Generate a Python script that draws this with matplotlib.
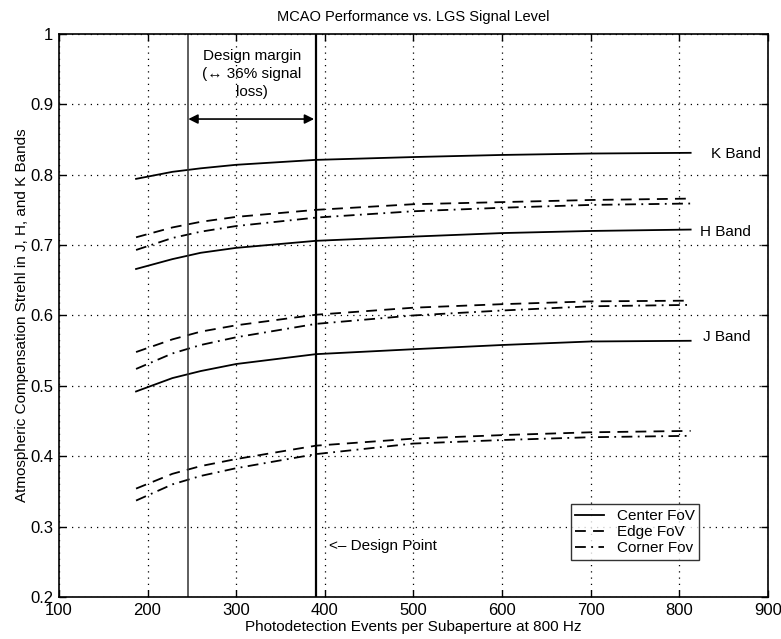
import matplotlib
matplotlib.use("Agg")
import matplotlib.pyplot as plt

plt.rcParams['font.family'] = ['Liberation Sans', 'DejaVu Sans']

x = [187, 228, 260, 300, 390, 500, 600, 700, 813]

k_center = [0.794, 0.804, 0.809, 0.814, 0.821, 0.825, 0.828, 0.830, 0.831]
k_edge   = [0.711, 0.725, 0.733, 0.740, 0.750, 0.758, 0.761, 0.764, 0.766]
k_corner = [0.693, 0.710, 0.719, 0.727, 0.739, 0.748, 0.753, 0.757, 0.759]
h_center = [0.666, 0.680, 0.689, 0.696, 0.706, 0.712, 0.717, 0.720, 0.722]
h_edge   = [0.548, 0.566, 0.577, 0.586, 0.601, 0.611, 0.616, 0.620, 0.621]
h_corner = [0.524, 0.546, 0.558, 0.569, 0.588, 0.600, 0.607, 0.613, 0.615]
j_center = [0.492, 0.511, 0.521, 0.531, 0.545, 0.552, 0.558, 0.563, 0.564]
j_edge   = [0.354, 0.375, 0.386, 0.396, 0.415, 0.425, 0.430, 0.434, 0.436]
j_corner = [0.337, 0.360, 0.372, 0.383, 0.403, 0.418, 0.423, 0.427, 0.429]

margin_x = 246
design_x = 390
x_ticks = [100, 200, 300, 400, 500, 600, 700, 800, 900]
y_ticks = [0.2, 0.3, 0.4, 0.5, 0.6, 0.7, 0.8, 0.9, 1.0]
y_ticklabels = ['0.2', '0.3', '0.4', '0.5', '0.6', '0.7', '0.8', '0.9', '1']

fig = plt.figure(figsize=(7.81, 6.39), dpi=100)
ax = fig.add_axes([0.0755, 0.0657, 0.9075, 0.8813])

lw = 1.3
ax.plot(x, k_center, 'k-', lw=lw, label='Center FoV')
ax.plot(x, k_edge, 'k--', lw=lw, dashes=(6, 4), label='Edge FoV')
ax.plot(x, k_corner, 'k-.', lw=lw, dashes=(6, 3, 1, 3), label='Corner Fov')
ax.plot(x, h_center, 'k-', lw=lw)
ax.plot(x, h_edge, 'k--', lw=lw, dashes=(6, 4))
ax.plot(x, h_corner, 'k-.', lw=lw, dashes=(6, 3, 1, 3))
ax.plot(x, j_center, 'k-', lw=lw)
ax.plot(x, j_edge, 'k--', lw=lw, dashes=(6, 4))
ax.plot(x, j_corner, 'k-.', lw=lw, dashes=(6, 3, 1, 3))

ax.axvline(margin_x, color='#333333', lw=1.1)
ax.axvline(design_x, color='black', lw=1.6)

ax.annotate('', xy=(margin_x, 0.879), xytext=(design_x - 2, 0.879),
            arrowprops=dict(arrowstyle='<|-|>', color='black', lw=1.2,
                            mutation_scale=14, shrinkA=0, shrinkB=0))
ax.text(318, 0.943, 'Design margin\n(\u2194 36% signal\nloss)', ha='center', va='center',
        fontsize=11, linespacing=1.4)
ax.text(405, 0.272, '<\u2013 Design Point', ha='left', va='center', fontsize=11)

ax.text(836, 0.829, 'K Band', ha='left', va='center', fontsize=11)
ax.text(823, 0.718, 'H Band', ha='left', va='center', fontsize=11)
ax.text(827, 0.570, 'J Band', ha='left', va='center', fontsize=11)

ax.set_xlim(100, 900)
ax.set_ylim(0.2, 1.0)
ax.set_xticks(x_ticks)
ax.set_yticks(y_ticks)
ax.set_yticklabels(y_ticklabels)
ax.tick_params(direction='in', length=5, width=1, labelsize=12,
               top=True, right=True, pad=4)
ax.grid(True, linestyle=(0, (1, 4)), color='black', lw=0.9)
for s in ax.spines.values():
    s.set_linewidth(1.2)

ax.set_title('MCAO Performance vs. LGS Signal Level', fontsize=10.5, pad=9)
ax.set_xlabel('Photodetection Events per Subaperture at 800 Hz', fontsize=11, labelpad=2)
ax.set_ylabel('Atmospheric Compensation Strehl in J, H, and K Bands', fontsize=11, labelpad=1)

leg = ax.legend(loc='lower left', bbox_to_anchor=(0.722, 0.0657), fontsize=11,
                frameon=True, fancybox=False, edgecolor='black', handlelength=1.9,
                borderpad=0.3, labelspacing=0.15, handletextpad=0.8, borderaxespad=0)
leg.get_frame().set_linewidth(1.0)

fig.savefig('out.png', dpi=100)
